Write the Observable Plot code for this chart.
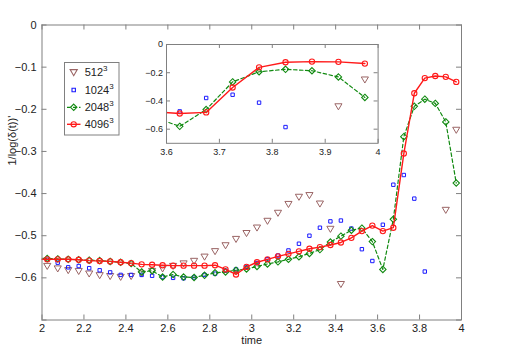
<!DOCTYPE html>
<html>
<head>
<meta charset="utf-8">
<script src="https://cdn.jsdelivr.net/npm/d3@7"></script>
<script src="https://cdn.jsdelivr.net/npm/@observablehq/plot@0.6"></script>
<style>
  body { margin: 0; background: #fff; }
  #wrap { position: relative; width: 505px; height: 354px; font-family: "Liberation Sans", Arial, sans-serif; }
  #wrap > * { position: absolute; }
</style>
</head>
<body>
<div id="wrap"></div>
<script>
// ---- data ----
const times = [1.975,2.025,2.075,2.125,2.175,2.225,2.275,2.325,2.375,2.425,2.475,2.525,2.575,2.625,2.675,2.725,2.775,2.825,2.875,2.925,2.975,3.025,3.075,3.125,3.175,3.225,3.275,3.325,3.375,3.425,3.475,3.525,3.575,3.625,3.675,3.725,3.775,3.825,3.875,3.925,3.975];
const s512 = [null,-0.572,-0.578,-0.582,-0.584,-0.590,-0.594,-0.596,-0.598,-0.596,-0.590,-0.584,-0.578,-0.572,-0.566,-0.560,-0.550,-0.537,-0.523,-0.508,-0.494,-0.481,-0.465,-0.446,-0.425,-0.408,-0.404,-0.424,-0.484,-0.615,null,null,null,null,null,null,null,null,null,-0.439,-0.249];
const s1024 = [null,-0.557,-0.564,-0.575,-0.572,-0.577,-0.582,-0.587,-0.593,-0.593,-0.593,-0.595,-0.598,-0.600,-0.601,-0.599,-0.593,-0.590,-0.583,-0.580,-0.574,-0.565,-0.556,-0.547,-0.535,-0.519,-0.500,-0.481,-0.466,-0.464,-0.483,-0.532,-0.560,-0.474,-0.379,-0.356,-0.412,-0.585,null,null,null];
const s2048 = [-0.553,-0.554,-0.555,-0.556,-0.557,-0.558,-0.559,-0.561,-0.563,-0.566,-0.586,-0.583,-0.598,-0.592,-0.598,-0.599,-0.594,-0.588,-0.586,-0.582,-0.579,-0.573,-0.567,-0.562,-0.556,-0.550,-0.542,-0.533,-0.515,-0.501,-0.487,-0.482,-0.514,-0.580,-0.461,-0.265,-0.193,-0.176,-0.186,-0.230,-0.375];
const s4096 = [-0.556,-0.556,-0.556,-0.556,-0.557,-0.559,-0.560,-0.561,-0.563,-0.565,-0.568,-0.569,-0.570,-0.571,-0.571,-0.571,-0.571,-0.570,-0.580,-0.592,-0.574,-0.563,-0.556,-0.549,-0.543,-0.537,-0.531,-0.527,-0.522,-0.516,-0.505,-0.489,-0.476,-0.489,-0.481,-0.305,-0.162,-0.126,-0.121,-0.123,-0.135];
const seriesNames = ["512", "1024", "2048", "4096"];
const xTicksMain = [2, 2.2, 2.4, 2.6, 2.8, 3, 3.2, 3.4, 3.6, 3.8, 4];
const yTicksMain = [0, -0.1, -0.2, -0.3, -0.4, -0.5, -0.6];
const xTicksInset = [3.6, 3.7, 3.8, 3.9, 4];
const yTicksInset = [0, -0.2, -0.4, -0.6];
const xLabel = "time";
const yLabel = "1/log(\u03B4(t))'";

// ---- styles ----
const C512 = "#9a6464", C1024 = "#1a1aff", C2048 = "#118a11", C4096 = "#ff1a1a";
const AX = "#808080";
const FONT = "Liberation Sans, Arial, sans-serif";
const triDown = { draw(ctx, size) {
  const h = Math.sqrt(size) * 0.6;
  ctx.moveTo(-h, -h * 0.75); ctx.lineTo(h, -h * 0.75); ctx.lineTo(0, h * 0.95); ctx.closePath();
}};

const rows = arr => times.map((t, i) => ({t, v: arr[i]}));
const fmtNum = d => (d < 0 ? "\u2212" : "") + String(Math.abs(d));

function chartMarks(xmin, rDot) {
  const pts = arr => rows(arr).filter(d => d.v != null && d.t >= xmin);
  return [
    Plot.dot(pts(s512), {x: "t", y: "v", symbol: triDown, r: rDot * 1.05, stroke: C512, strokeWidth: 1, fill: "none", clip: true}),
    Plot.dot(pts(s1024), {x: "t", y: "v", symbol: "square", r: rDot * 0.6, stroke: C1024, strokeWidth: 1, fill: "none", clip: true}),
    Plot.line(rows(s2048), {x: "t", y: "v", stroke: C2048, strokeWidth: 1.2, strokeDasharray: "3.5,2.5", clip: true}),
    Plot.dot(pts(s2048), {x: "t", y: "v", symbol: "diamond2", r: rDot * 0.9, stroke: C2048, strokeWidth: 1.1, fill: "none", clip: true}),
    Plot.line(rows(s4096), {x: "t", y: "v", stroke: C4096, strokeWidth: 1.4, clip: true}),
    Plot.dot(pts(s4096), {x: "t", y: "v", symbol: "circle", r: rDot * 0.82, stroke: C4096, strokeWidth: 1.1, fill: "none", clip: true})
  ];
}

function inwardTicks(xt, yt, innerW, innerH, len) {
  return [
    Plot.ruleX(xt, {x: d => d, insetTop: innerH - len, stroke: AX}),
    Plot.ruleX(xt, {x: d => d, insetBottom: innerH - len, stroke: AX}),
    Plot.ruleY(yt, {y: d => d, insetRight: innerW - len, stroke: AX}),
    Plot.ruleY(yt, {y: d => d, insetLeft: innerW - len, stroke: AX})
  ];
}

// ---- main chart ----
const W = 505, H = 354, mL = 41.5, mR = 44, mT = 24.5, mB = 34.5;
const main = Plot.plot({
  width: W, height: H,
  marginLeft: mL, marginRight: mR, marginTop: mT, marginBottom: mB,
  x: {domain: [2, 4]},
  y: {domain: [-0.7, 0]},
  style: {fontFamily: FONT, fontSize: "11px", color: "#222", background: "transparent"},
  marks: [
    ...inwardTicks(xTicksMain, [...yTicksMain, -0.7], W - mL - mR, H - mT - mB, 5),
    Plot.axisX(xTicksMain, {tickSize: 0, tickPadding: 4, tickFormat: d => String(d), label: null, fill: "#222"}),
    Plot.axisY(yTicksMain, {tickSize: 0, tickPadding: 5.5, tickFormat: fmtNum, label: null, fill: "#222"}),
    ...chartMarks(2, 3.2),
    Plot.frame({stroke: AX}),
    Plot.text([xLabel], {frameAnchor: "bottom", dy: 23.5, text: d => d, fontSize: 11, fill: "#222"}),
    Plot.text([yLabel], {frameAnchor: "left", dx: -30, dy: -7, rotate: -90, text: d => d, fontSize: 11, fill: "#222"})
  ]
});
main.style.left = "0px"; main.style.top = "0px";
document.getElementById("wrap").appendChild(main);

// ---- inset ----
const iL = 32, iR = 4, iT = 6, iB = 16;
const iFrameL = 165.7, iFrameR = 377.3, iFrameT = 43.5, iFrameB = 142.3;
const iW = (iFrameR - iFrameL) + iL + iR, iH = (iFrameB - iFrameT) + iT + iB;
const inset = Plot.plot({
  width: iW, height: iH,
  marginLeft: iL, marginRight: iR, marginTop: iT, marginBottom: iB,
  x: {domain: [3.6, 4]},
  y: {domain: [-0.7, 0]},
  style: {fontFamily: FONT, fontSize: "9px", color: "#222", background: "transparent"},
  marks: [
    Plot.frame({fill: "white"}),
    ...inwardTicks(xTicksInset, yTicksInset, iFrameR - iFrameL, iFrameB - iFrameT, 4),
    Plot.axisX(xTicksInset, {tickSize: 0, tickPadding: 5, tickFormat: d => String(d), label: null, fill: "#222"}),
    Plot.axisY(yTicksInset, {tickSize: 0, tickPadding: 3.5, tickFormat: fmtNum, label: null, fill: "#222"}),
    ...chartMarks(3.6, 3.2),
    Plot.frame({stroke: AX})
  ]
});
inset.style.left = (iFrameL - iL) + "px"; inset.style.top = (iFrameT - iT) + "px";
document.getElementById("wrap").appendChild(inset);

// ---- legend ----
const legColors = [C512, C1024, C2048, C4096];
const legendSvg = d3.create("svg").attr("width", 56).attr("height", 74)
  .style("left", "64px").style("top", "62px")
  .style("font-family", FONT).style("font-size", "11px");
legendSvg.append("rect").attr("x", 0.5).attr("y", 0.5).attr("width", 54.5).attr("height", 72.5)
  .attr("fill", "white").attr("stroke", AX);
const rowY = [10.3, 28, 45.3, 62.3];
const symTypes = [triDown, d3.symbolSquare, d3.symbolDiamond2, d3.symbolCircle];
const symR = [3.36, 1.92, 2.88, 2.62];
seriesNames.forEach((name, i) => {
  const g = legendSvg.append("g").attr("transform", `translate(0,${rowY[i]})`);
  if (i >= 2) {
    g.append("line").attr("x1", 3).attr("x2", 16.5).attr("y1", 0).attr("y2", 0)
      .attr("stroke", legColors[i]).attr("stroke-width", i === 2 ? 1.2 : 1.4)
      .attr("stroke-dasharray", i === 2 ? "3.5,2.5" : null);
  }
  const size = Math.PI * symR[i] * symR[i];
  g.append("path").attr("transform", "translate(9.7,0)")
    .attr("d", d3.symbol(symTypes[i], size)())
    .attr("fill", "none").attr("stroke", legColors[i]).attr("stroke-width", 1.1);
  const t = g.append("text").attr("x", 20.7).attr("y", 4).attr("fill", "#222");
  t.append("tspan").text(name);
  t.append("tspan").attr("dy", -5).attr("font-size", "8px").text("3");
});
document.getElementById("wrap").appendChild(legendSvg.node());
</script>
</body>
</html>
